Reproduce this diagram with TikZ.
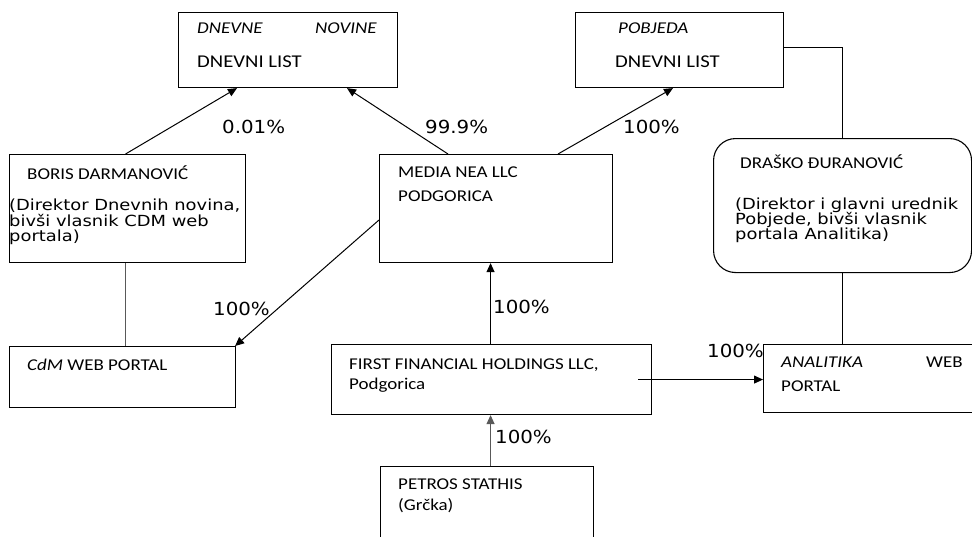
\documentclass[tikz,border=0pt]{standalone}
\usepackage{fontspec}
\setmainfont{Carlito}[FakeStretch=1.15]
\newfontfamily\vfont{DejaVu Sans}[FakeStretch=1.17]
\newfontfamily\pfont{DejaVu Sans}[FakeStretch=1.1]
\usetikzlibrary{arrows.meta,calc}
\begin{document}
\begin{tikzpicture}[x=1pt,y=-1pt,
  box/.style={draw, line width=1.1pt, inner sep=0pt, anchor=north west},
  rbox/.style={box, rounded corners=22pt},
  arr/.style={-{Triangle[length=9pt,width=8pt]}, line width=1pt},
  plain/.style={line width=1pt},
  grayln/.style={draw=black!65},
  t/.style={anchor=base west, inner sep=0pt, font=\fontsize{16.5}{18}\selectfont},
  tbig/.style={t, font=\fontsize{18}{20}\selectfont},
  ti/.style={t, font=\fontsize{16.5}{18}\selectfont\itshape},
  tv/.style={anchor=base west, inner sep=0pt, font=\vfont\fontsize{15.3}{16}\selectfont},
  pc/.style={anchor=base west, inner sep=0pt, font=\pfont\fontsize{18}{20}\selectfont}]
\useasboundingbox (0,0) rectangle (972,536);
\fill[white] (0,0) rectangle (972,536);
\clip (0,0) rectangle (972,536);

% boxes
\node[box, minimum width=219pt, minimum height=75pt] (dn) at (178,12) {};
\node[box, minimum width=208pt, minimum height=75pt] (pob) at (575,12) {};
\node[box, minimum width=236pt, minimum height=108pt] (boris) at (9,154) {};
\node[box, minimum width=226pt, minimum height=61pt] (cdm) at (9,346) {};
\node[box, minimum width=233pt, minimum height=108pt] (media) at (379,154) {};
\node[box, minimum width=320pt, minimum height=70pt] (ffh) at (331,344) {};
\node[box, minimum width=213pt, minimum height=90pt] (petros) at (380,466) {};
\node[rbox, minimum width=258pt, minimum height=134pt] (dr) at (713,138) {};
\node[box, minimum width=215pt, minimum height=68pt] (ana) at (763,344) {};

% texts
\node[ti] (dn1) at (197,33) {DNEVNE};
\node[ti] (dn2) at (315,33) {NOVINE};
\node[tbig] (dn3) at (197,67) {DNEVNI LIST};
\node[ti] (pob1) at (618,33) {POBJEDA};
\node[tbig] (pob2) at (615,67) {DNEVNI LIST};
\node[t] (bor1) at (27,179) {BORIS DARMANOVIĆ};
\node[tv] (bor2) at (9,210) {(Direktor Dnevnih novina,};
\node[tv] (bor3) at (9,226) {bivši vlasnik CDM web};
\node[tv] (bor4) at (9,241) {portala)};
\node[t] (cdm1) at (27,370) {\textit{CdM} WEB PORTAL};
\node[t] (med1) at (398,177) {MEDIA NEA LLC};
\node[t] (med2) at (398,201) {PODGORICA};
\node[t] (ffh1) at (349,369) {FIRST FINANCIAL HOLDINGS LLC,};
\node[t] (ffh2) at (349,389) {Podgorica};
\node[t] (pet1) at (398,489) {PETROS STATHIS};
\node[t] (pet2) at (398,510) {(Grčka)};
\node[t] (dr1) at (740,168) {DRAŠKO ĐURANOVIĆ};
\node[tv] (dr2) at (735,209) {(Direktor i glavni urednik};
\node[tv] (dr3) at (735,224) {Pobjede, bivši vlasnik};
\node[tv] (dr4) at (735,239) {portala Analitika)};
\node[ti] (ana1) at (781,367) {ANALITIKA};
\node[t] (ana2) at (926,367) {WEB};
\node[t] (ana3) at (781,391) {PORTAL};

% percentages
\node[pc] (p1) at (222,133) {0.01\%};
\node[pc] (p2) at (425,133) {99.9\%};
\node[pc] (p3) at (623,133) {100\%};
\node[pc] (p4) at (213,315) {100\%};
\node[pc] (p5) at (493,313) {100\%};
\node[pc] (p6) at (495,443) {100\%};
\node[pc] (p7) at (707,357) {100\%};

% connectors
\draw[arr] ([xshift=-2pt]boris.north) -- ([xshift=59pt]dn.south west);
\draw[arr] ([xshift=69pt]media.north west) -- ([xshift=169pt]dn.south west);
\draw[arr] ([xshift=179pt]media.north west) -- ([xshift=98pt]pob.south west);
\draw[arr] ([yshift=-66pt]media.north west) -- ([xshift=-1pt]cdm.north east);
\draw[arr] ([xshift=-1pt]ffh.north) -- ([xshift=-1pt]ffh.north |- media.south);
\draw[arr, grayln] ([xshift=-1pt]ffh.south |- petros.north) -- ([xshift=-1pt]ffh.south);
\draw[arr] ([xshift=-14pt]ffh.east) -- (ffh.east -| ana.west);
\draw[plain, grayln] ([xshift=-2pt]boris.south) -- ([xshift=-2pt]boris.south |- cdm.north);
\draw[plain] ([yshift=2.5pt]pob.east) -| (dr.north);
\draw[plain] (dr.south) -- (dr.south |- ana.north);
\end{tikzpicture}
\end{document}
